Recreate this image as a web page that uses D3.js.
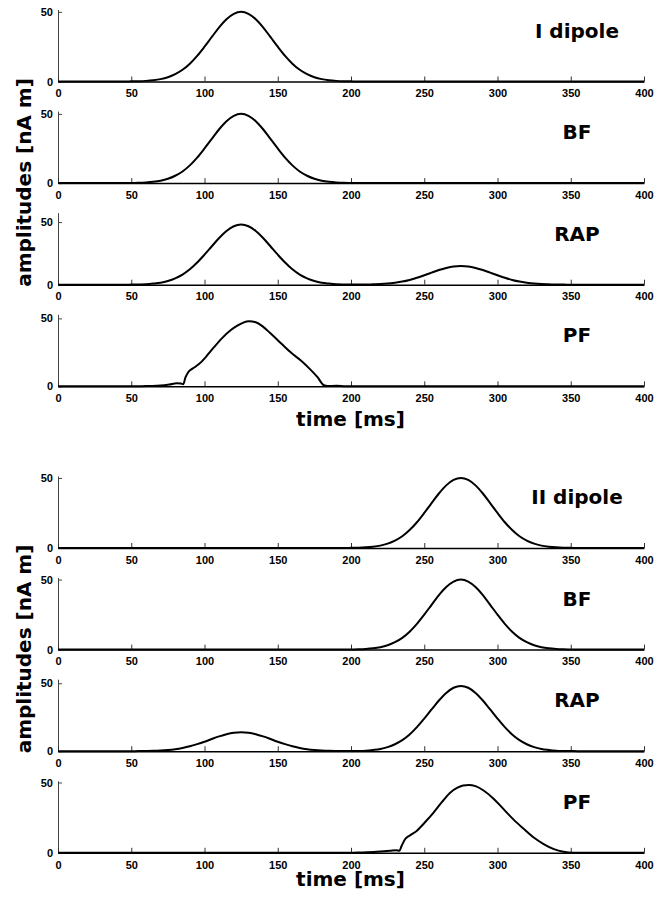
<!DOCTYPE html>
<html lang="en">

<head>
    <meta charset="UTF-8">
    <title>dipole amplitudes</title>
    <style>
        body {
            margin: 0;
            background: #fff;
        }

        .tick text {
            font-family: "Liberation Sans", Arial, sans-serif;
            font-weight: bold;
            font-size: 11px;
            fill: #000;
        }

        .lbl {
            font-family: "DejaVu Sans", sans-serif;
            font-weight: bold;
            font-size: 20px;
            fill: #000;
        }
    </style>
</head>

<body>
    <!-- Load d3.js -->
    <script src="https://d3js.org/d3.v7.min.js"></script>

    <div id="chart"></div>
    <script>
        // time samples (ms)
        var timesMs = [0, 5, 10, 15, 20, 25, 30, 35, 40, 45, 50, 55, 60, 65, 70, 75, 80, 85, 90, 95,
            100, 105, 110, 115, 120, 125, 130, 135, 140, 145, 150, 155, 160, 165, 170, 175, 180, 185, 190, 195,
            200, 205, 210, 215, 220, 225, 230, 235, 240, 245, 250, 255, 260, 265, 270, 275, 280, 285, 290, 295,
            300, 305, 310, 315, 320, 325, 330, 335, 340, 345, 350, 355, 360, 365, 370, 375, 380, 385, 390, 395, 400];

        // first simulation: dipole I active
        var dipole1 = [0, 0, 0, 0, 0, 0, 0, 0, 0, 0,
            0.1, 0.2, 0.45, 0.9, 1.7, 3.1, 5.3, 8.4, 12.8, 18.4, 25.0, 32.0, 38.9, 44.7, 48.6, 50.0,
            48.6, 44.7, 38.9, 32.0, 25.0, 18.4, 12.8, 8.4, 5.3, 3.1, 1.7, 0.9, 0.45, 0.2, 0.1,
            0, 0, 0, 0, 0, 0, 0, 0, 0, 0,
            0, 0, 0, 0, 0, 0, 0, 0, 0, 0,
            0, 0, 0, 0, 0, 0, 0, 0, 0, 0,
            0, 0, 0, 0, 0, 0, 0, 0, 0, 0];
        var bf1 = [0, 0, 0, 0, 0, 0, 0, 0, 0, 0,
            0.1, 0.2, 0.45, 0.9, 1.7, 3.1, 5.3, 8.4, 12.8, 18.4, 25.0, 32.0, 38.9, 44.7, 48.6, 50.0,
            48.6, 44.7, 38.9, 32.0, 25.0, 18.4, 12.8, 8.4, 5.3, 3.1, 1.7, 0.9, 0.45, 0.2, 0.1,
            0, 0, 0, 0, 0, 0, 0, 0, 0, 0,
            0, 0, 0, 0, 0, 0, 0, 0, 0, 0,
            0, 0, 0, 0, 0, 0, 0, 0, 0, 0,
            0, 0, 0, 0, 0, 0, 0, 0, 0, 0];
        var rap1 = [0, 0, 0, 0, 0, 0, 0, 0, 0, 0,
            0.1, 0.2, 0.4, 0.9, 1.6, 3.0, 5.1, 8.1, 12.3, 17.7, 24.0, 30.7, 37.3, 42.9, 46.7, 48.0,
            46.7, 42.9, 37.3, 30.7, 24.0, 17.7, 12.3, 8.1, 5.1, 3.0, 1.6, 0.9, 0.4, 0.2, 0.1,
            0.1, 0.1, 0.3, 0.5, 0.9, 1.6, 2.5, 3.8, 5.5, 7.5,
            9.6, 11.7, 13.4, 14.6, 15.0, 14.6, 13.4, 11.7, 9.6, 7.5,
            5.5, 3.8, 2.5, 1.6, 0.9, 0.5, 0.3, 0.1, 0.1, 0,
            0, 0, 0, 0, 0, 0, 0, 0, 0, 0];
        var pf1Times = [0, 55, 62, 70, 76, 81, 84, 85.5, 87, 89, 93, 97.5, 101, 106.5, 112, 118, 123, 126.5, 130.5,
            135, 139.5, 145, 152, 159, 166, 172.5, 177, 181.5, 184, 190, 196, 205, 400];
        var pf1Values = [0, 0, 0.2, 0.5, 1.3, 2.3, 2.0, 1.6, 6.5, 10.5, 13.8, 17.6, 21.7, 28.8, 35.5, 41.4, 45.0, 46.9, 47.8,
            47.1, 44.3, 39.0, 31.9, 24.8, 18.8, 12.1, 6.9, 0.8, 0.2, 0.4, 0.1, 0, 0];

        // second simulation: dipole II active
        var dipole2 = [0, 0, 0, 0, 0, 0, 0, 0, 0, 0,
            0, 0, 0, 0, 0, 0, 0, 0, 0, 0,
            0, 0, 0, 0, 0, 0, 0, 0, 0, 0,
            0, 0, 0, 0, 0, 0, 0, 0, 0, 0,
            0.1, 0.2, 0.45, 0.9, 1.7, 3.1, 5.3, 8.4, 12.8, 18.4, 25.0, 32.0, 38.9, 44.7, 48.6, 50.0,
            48.6, 44.7, 38.9, 32.0, 25.0, 18.4, 12.8, 8.4, 5.3, 3.1, 1.7, 0.9, 0.45, 0.2, 0.1,
            0, 0, 0, 0, 0, 0, 0, 0, 0, 0];
        var bf2 = [0, 0, 0, 0, 0, 0, 0, 0, 0, 0,
            0, 0, 0, 0, 0, 0, 0, 0, 0, 0,
            0, 0, 0, 0, 0, 0, 0, 0, 0, 0,
            0, 0, 0, 0, 0, 0, 0, 0, 0, 0,
            0.1, 0.2, 0.45, 0.9, 1.7, 3.1, 5.3, 8.4, 12.8, 18.4, 25.0, 32.0, 38.9, 44.7, 48.6, 50.0,
            48.6, 44.7, 38.9, 32.0, 25.0, 18.4, 12.8, 8.4, 5.3, 3.1, 1.7, 0.9, 0.45, 0.2, 0.1,
            0, 0, 0, 0, 0, 0, 0, 0, 0, 0];
        var rap2 = [0, 0, 0, 0, 0, 0, 0, 0, 0, 0,
            0.03, 0.06, 0.13, 0.25, 0.5, 0.9, 1.5, 2.4, 3.6, 5.2, 7.0, 9.0, 10.9, 12.5, 13.6, 14.0,
            13.6, 12.5, 10.9, 9.0, 7.0, 5.2, 3.6, 2.4, 1.5, 0.9, 0.5, 0.25, 0.13, 0.06, 0.1,
            0.2, 0.4, 0.9, 1.6, 3.0, 5.1, 8.1, 12.3, 17.7, 24.0,
            30.7, 37.3, 42.9, 46.7, 48.0, 46.7, 42.9, 37.3, 30.7, 24.0,
            17.7, 12.3, 8.1, 5.1, 3.0, 1.6, 0.9, 0.4, 0.2, 0.1,
            0, 0, 0, 0, 0, 0, 0, 0, 0, 0];
        var pf2Times = [0, 200, 206, 217.5, 226.5, 231, 233, 234.6, 237, 240.5, 245, 250.5, 256.5, 262, 267.5,
            273, 276.5, 280.5, 285, 290.5, 297.5, 304, 311, 318, 324.5, 331.5, 338.5, 345, 352, 400];
        var pf2Values = [0, 0, 0.2, 0.7, 1.4, 1.9, 1.4, 5.0, 9.8, 12.6, 15.7, 21.7, 28.8, 36.0, 42.6,
            46.5, 47.9, 48.3, 47.4, 44.3, 38.3, 31.2, 23.6, 16.9, 11.0, 6.2, 2.6, 0.7, 0, 0];

        var panelNames1 = ["I dipole", "BF", "RAP", "PF"];
        var panelNames2 = ["II dipole", "BF", "RAP", "PF"];
        var xTicks = [0, 50, 100, 150, 200, 250, 300, 350, 400];
        var yTicks = [0, 50];

        // upper y limit of each panel
        var yMax1 = [51.7, 52, 57.5, 53];
        var yMax2 = [51.4, 51.4, 53, 51.2];

        var pairs = function (t, v) { return t.map(function (d, i) { return [d, v[i]]; }); };

        var groups = [
            {
                top: 9.5, timeY: 426, names: panelNames1, ymax: yMax1,
                series: [pairs(timesMs, dipole1), pairs(timesMs, bf1), pairs(timesMs, rap1), pairs(pf1Times, pf1Values)]
            },
            {
                top: 476, timeY: 886, names: panelNames2, ymax: yMax2,
                series: [pairs(timesMs, dipole2), pairs(timesMs, bf2), pairs(timesMs, rap2), pairs(pf2Times, pf2Values)]
            }
        ];

        var W = 654, H = 897;
        var panelH = 72, panelStep = 101.6;

        var svg = d3.select("#chart")
            .append("svg")
            .attr("width", W)
            .attr("height", H);

        var x = d3.scaleLinear().domain([0, 400]).range([58, 644]);

        groups.forEach(function (grp) {
            grp.series.forEach(function (data, i) {
                var top = grp.top + i * panelStep;
                var y = d3.scaleLinear().domain([0, grp.ymax[i]]).range([top + panelH, top]);

                // y axis
                var ya = svg.append("g")
                    .attr("transform", "translate(58,0)")
                    .call(d3.axisLeft(y).tickValues(yTicks).tickSizeInner(-4).tickSizeOuter(0).tickPadding(5));
                ya.select(".domain").attr("stroke", "#444");
                ya.selectAll(".tick line").attr("stroke", "#444");

                // x axis
                var xa = svg.append("g")
                    .attr("transform", "translate(0," + (top + panelH) + ")")
                    .call(d3.axisBottom(x).tickValues(xTicks).tickSizeInner(-5).tickSizeOuter(0).tickPadding(8));
                xa.select(".domain").attr("stroke", "#000").attr("stroke-width", 1.5);
                xa.selectAll(".tick line").attr("stroke", "#333");

                // the curve
                svg.append("path")
                    .datum(data)
                    .attr("fill", "none")
                    .attr("stroke", "#000")
                    .attr("stroke-width", 2)
                    .attr("stroke-linejoin", "round")
                    .attr("d", d3.line()
                        .x(function (d) { return x(d[0]); })
                        .y(function (d) { return y(d[1]); })
                        .curve(d3.curveMonotoneX));

                // panel title
                svg.append("text")
                    .attr("class", "lbl")
                    .attr("x", 577)
                    .attr("y", top + panelH - 44)
                    .attr("text-anchor", "middle")
                    .text(grp.names[i]);
            });

            // axis titles
            svg.append("text")
                .attr("class", "lbl")
                .attr("text-anchor", "middle")
                .attr("transform", "translate(31," + (grp.top + 173) + ") rotate(-90)")
                .text("amplitudes [nA m]");

            svg.append("text")
                .attr("class", "lbl")
                .attr("x", 350.5)
                .attr("y", grp.timeY)
                .attr("text-anchor", "middle")
                .text("time [ms]");
        });
    </script>
</body>

</html>
